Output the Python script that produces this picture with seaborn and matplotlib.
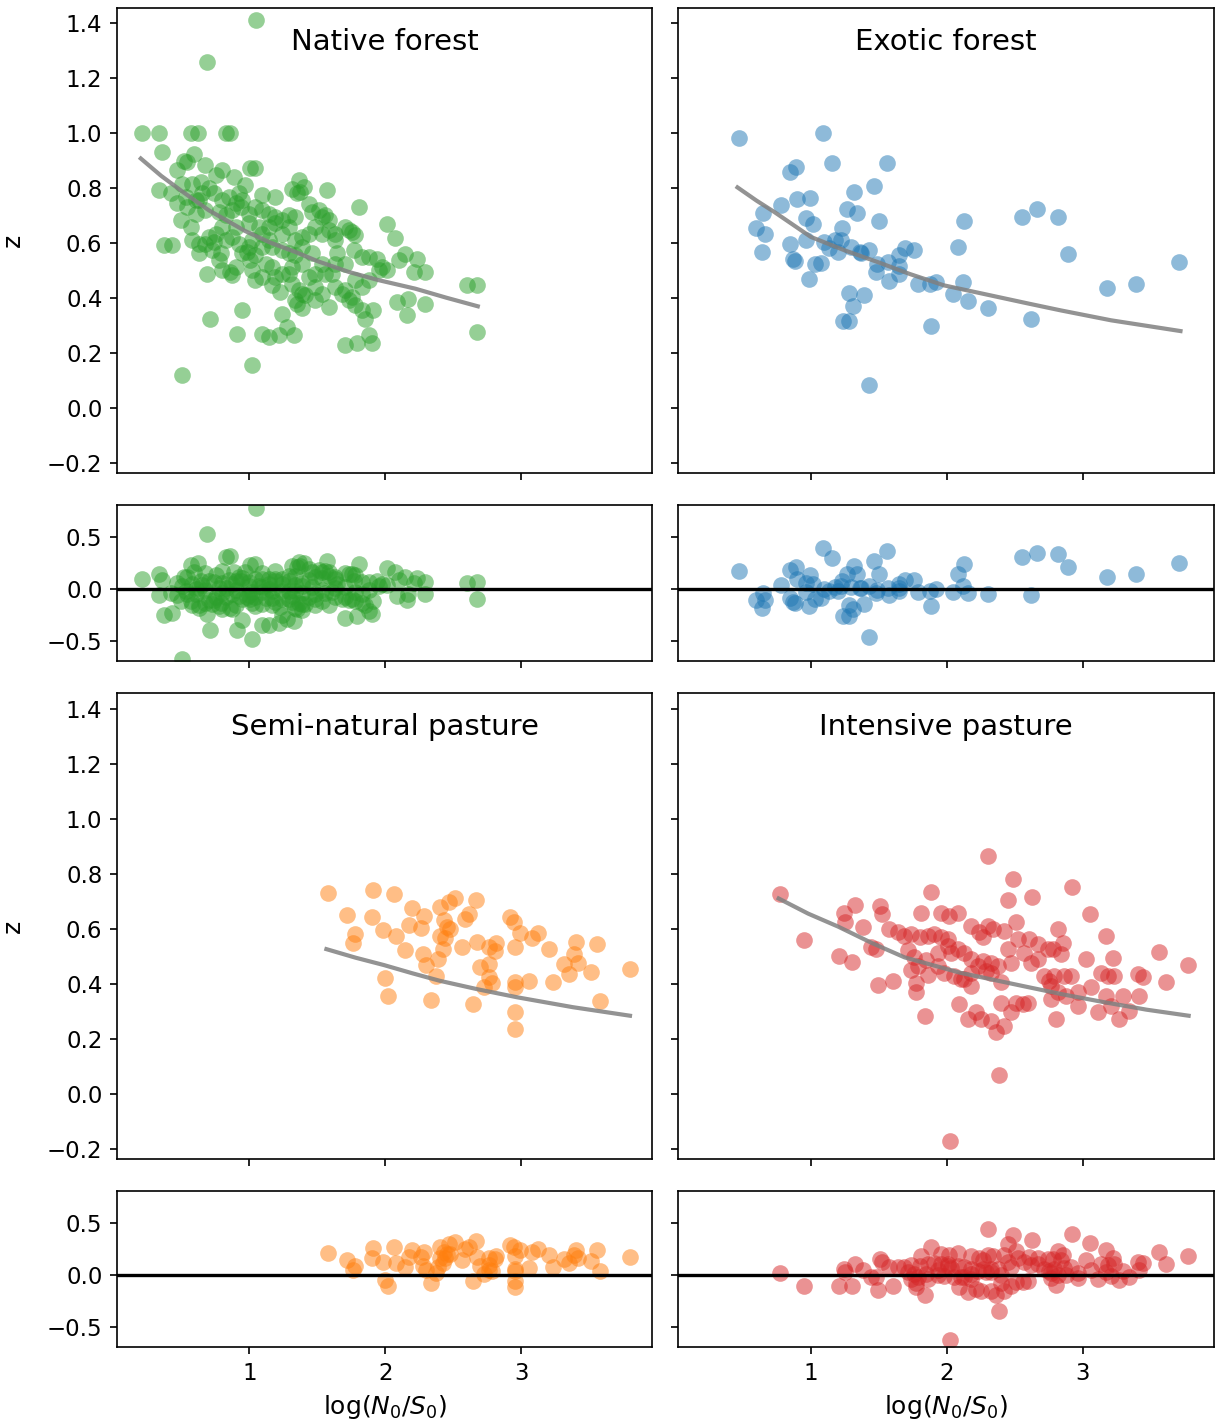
import numpy as np
import matplotlib
matplotlib.use("Agg")
import matplotlib.pyplot as plt
import seaborn as sns

# z against log(N0/S0) for each land use
native_pts = np.array([
    (1.05, 1.41), (0.69, 1.258),
    (0.21, 1.0), (0.333, 1.0), (0.566, 1.0), (0.623, 1.0), (0.824, 1.0), (0.86, 1.0),
    (0.358, 0.932), (0.52, 0.90), (0.59, 0.925), (0.54, 0.896), (0.468, 0.866), (0.676, 0.884),
    (0.80, 0.866), (0.75, 0.848), (1.007, 0.872), (1.044, 0.872), (0.885, 0.84), (0.578, 0.817),
    (0.64, 0.823), (0.70, 0.80), (0.738, 0.781), (0.97, 0.811), (0.333, 0.795), (0.419, 0.781),
    (1.363, 0.829), (1.314, 0.799), (1.40, 0.805), (1.35, 0.781), (1.375, 0.787), (1.571, 0.795),
    (1.093, 0.775), (1.19, 0.769), (0.946, 0.757), (0.897, 0.745), (0.468, 0.745), (0.54, 0.732),
    (0.63, 0.757), (0.603, 0.708), (0.676, 0.72), (0.493, 0.684), (0.566, 0.66), (0.37, 0.593),
    (0.43, 0.593), (0.775, 0.714), (0.824, 0.702), (0.873, 0.72), (0.934, 0.732), (0.995, 0.708),
    (1.044, 0.732), (1.093, 0.72), (1.142, 0.708), (1.19, 0.696), (1.24, 0.684), (1.289, 0.702),
    (1.338, 0.696), (1.461, 0.714), (1.51, 0.72), (1.559, 0.702), (1.583, 0.684), (1.706, 0.66),
    (1.755, 0.642), (1.804, 0.732), (2.01, 0.669), (2.07, 0.62), (2.147, 0.562), (2.233, 0.544),
    (2.098, 0.539), (2.208, 0.496), (2.294, 0.496), (1.877, 0.55), (1.94, 0.544), (1.95, 0.502),
    (2.01, 0.502), (1.779, 0.629), (1.767, 0.575), (1.632, 0.611), (1.645, 0.563), (1.632, 0.526),
    (2.6, 0.447), (2.674, 0.447), (2.674, 0.278), (2.083, 0.387), (2.17, 0.399), (2.16, 0.339),
    (2.294, 0.381), (1.91, 0.357), (1.853, 0.326), (1.877, 0.266), (1.90, 0.236), (1.79, 0.236),
    (1.706, 0.23), (1.583, 0.369), (1.681, 0.417), (1.73, 0.393), (1.779, 0.375), (1.828, 0.357),
    (1.363, 0.429), (1.412, 0.411), (1.387, 0.363), (1.485, 0.393), (1.35, 0.381), (1.24, 0.344),
    (1.228, 0.423), (1.093, 0.272), (1.142, 0.26), (1.216, 0.266), (1.277, 0.296), (1.326, 0.266),
    (0.91, 0.272), (1.02, 0.157), (0.713, 0.326), (0.946, 0.357), (0.50, 0.12), (0.69, 0.49),
    (0.80, 0.502), (0.86, 0.496), (0.873, 0.484), (0.676, 0.599), (0.738, 0.605), (0.787, 0.563),
    (0.824, 0.611), (0.873, 0.623), (0.922, 0.599), (0.983, 0.569), (1.007, 0.539), (1.044, 0.557),
    (1.118, 0.526), (1.167, 0.514), (1.19, 0.478), (1.24, 0.49), (1.167, 0.447), (1.314, 0.453),
    (1.314, 0.514), (1.387, 0.526), (1.338, 0.557), (1.387, 0.587), (1.461, 0.563), (1.534, 0.526),
    (1.559, 0.49), (1.485, 0.49), (1.632, 0.442), (1.706, 0.429), (1.755, 0.405), (1.608, 0.49),
    (1.706, 0.526), (1.02, 0.611), (1.093, 0.635), (1.142, 0.659), (1.19, 0.672), (1.24, 0.635),
    (1.289, 0.659), (1.338, 0.611), (1.387, 0.623), (1.436, 0.635), (1.485, 0.659), (1.534, 0.635),
    (1.583, 0.647), (1.632, 0.635), (1.167, 0.587), (1.093, 0.587), (1.24, 0.575), (1.289, 0.563),
    (0.995, 0.587), (0.946, 0.563), (0.897, 0.514), (1.02, 0.502), (1.093, 0.478), (1.069, 0.659),
    (0.995, 0.672), (1.142, 0.611), (1.044, 0.466), (0.897, 0.659), (0.75, 0.635), (0.80, 0.659),
    (0.70, 0.623), (0.627, 0.599), (0.578, 0.611), (0.725, 0.575), (0.775, 0.539), (0.627, 0.563),
    (0.603, 0.757), (0.652, 0.781), (0.53, 0.769), (0.505, 0.817), (0.80, 0.757), (0.848, 0.769),
    (0.922, 0.781), (1.436, 0.744), (1.534, 0.696), (1.73, 0.647), (1.828, 0.55), (1.975, 0.514),
    (1.779, 0.466), (1.828, 0.442), (1.877, 0.466), (1.436, 0.478), (1.485, 0.442), (1.534, 0.417),
    (1.387, 0.417), (1.338, 0.393), (1.289, 0.49),
])

exotic_pts = np.array([
    (0.47, 0.981), (1.088, 1.001), (1.154, 0.892), (1.561, 0.893), (0.848, 0.859), (0.892, 0.877),
    (1.468, 0.807), (1.321, 0.787), (0.777, 0.738), (0.897, 0.76), (0.99, 0.765), (0.647, 0.71),
    (1.267, 0.723), (1.34, 0.71), (0.966, 0.693), (1.015, 0.671), (1.50, 0.68), (2.13, 0.68),
    (0.598, 0.655), (0.659, 0.635), (1.23, 0.655), (0.642, 0.567), (0.85, 0.596), (0.961, 0.611),
    (1.10, 0.605), (1.174, 0.611), (1.223, 0.611), (1.137, 0.581), (1.198, 0.569), (1.296, 0.587),
    (1.358, 0.569), (1.43, 0.575), (1.37, 0.563), (1.696, 0.583), (1.757, 0.577), (1.652, 0.557),
    (2.08, 0.586), (2.554, 0.695), (2.662, 0.724), (2.816, 0.695), (2.894, 0.562), (3.71, 0.532),
    (3.18, 0.438), (3.39, 0.451), (0.868, 0.543), (0.88, 0.535), (0.985, 0.471), (1.027, 0.524),
    (1.076, 0.529), (1.49, 0.524), (1.566, 0.532), (1.48, 0.495), (1.652, 0.519), (1.652, 0.489),
    (1.578, 0.463), (1.79, 0.453), (1.877, 0.453), (1.922, 0.459), (2.12, 0.461), (2.044, 0.414),
    (2.159, 0.389), (2.30, 0.365), (2.62, 0.324), (1.279, 0.419), (1.394, 0.411), (1.309, 0.371),
    (1.24, 0.316), (1.284, 0.316), (1.885, 0.299), (1.431, 0.084),
])

semi_pts = np.array([
    (1.576, 0.731), (1.907, 0.74), (2.061, 0.728), (1.718, 0.649), (1.902, 0.641), (1.775, 0.58),
    (1.76, 0.55), (1.98, 0.595), (2.078, 0.572), (2.142, 0.523), (2.196, 0.677), (2.282, 0.647),
    (2.177, 0.614), (2.265, 0.602), (2.399, 0.679), (2.465, 0.697), (2.514, 0.713), (2.666, 0.705),
    (2.429, 0.631), (2.453, 0.607), (2.478, 0.599), (2.404, 0.574), (2.441, 0.568), (2.588, 0.635),
    (2.613, 0.653), (2.421, 0.526), (2.385, 0.489), (2.274, 0.51), (2.299, 0.468), (2.372, 0.429),
    (2.564, 0.532), (2.674, 0.552), (2.76, 0.535), (2.816, 0.55), (2.809, 0.52), (2.699, 0.46),
    (2.76, 0.472), (2.76, 0.424), (2.784, 0.403), (2.723, 0.387), (2.914, 0.641), (2.944, 0.623),
    (2.956, 0.532), (2.993, 0.584), (3.082, 0.565), (3.12, 0.584), (3.206, 0.526), (2.951, 0.407),
    (2.956, 0.389), (3.054, 0.411), (2.951, 0.296), (2.956, 0.235), (2.644, 0.326), (2.336, 0.341),
    (1.999, 0.42), (2.019, 0.357), (3.237, 0.407), (3.311, 0.472), (3.348, 0.436), (3.39, 0.508),
    (3.417, 0.477), (3.404, 0.552), (3.512, 0.442), (3.556, 0.545), (3.581, 0.339), (3.797, 0.453),
])

intensive_pts = np.array([
    (0.77, 0.725), (0.953, 0.559), (2.301, 0.864), (2.487, 0.782), (2.453, 0.704), (2.625, 0.717),
    (2.921, 0.75), (1.885, 0.735), (3.056, 0.653), (3.172, 0.574), (3.564, 0.516), (3.777, 0.468),
    (3.617, 0.405), (1.243, 0.659), (1.328, 0.685), (1.248, 0.623), (1.512, 0.683), (1.525, 0.653),
    (1.382, 0.607), (1.206, 0.501), (1.304, 0.48), (1.443, 0.532), (1.48, 0.526), (1.492, 0.394),
    (1.603, 0.412), (1.77, 0.37), (1.843, 0.284), (1.811, 0.659), (1.958, 0.656), (2.02, 0.646),
    (2.08, 0.656), (1.578, 0.599), (1.639, 0.587), (1.688, 0.575), (1.737, 0.581), (1.806, 0.569),
    (1.86, 0.575), (1.909, 0.581), (1.958, 0.569), (2.007, 0.562), (2.179, 0.611), (2.301, 0.611),
    (2.338, 0.599), (2.424, 0.593), (2.24, 0.587), (2.264, 0.569), (2.51, 0.623), (1.713, 0.523),
    (1.762, 0.499), (1.786, 0.463), (1.848, 0.487), (1.86, 0.433), (1.737, 0.451), (1.774, 0.403),
    (1.934, 0.513), (2.007, 0.538), (2.032, 0.513), (2.08, 0.526), (2.13, 0.513), (2.179, 0.49),
    (2.228, 0.465), (2.264, 0.483), (2.326, 0.477), (2.179, 0.441), (2.105, 0.417), (2.179, 0.393),
    (2.289, 0.447), (2.326, 0.441), (2.4, 0.405), (2.375, 0.465), (2.449, 0.526), (2.522, 0.562),
    (2.473, 0.477), (2.571, 0.513), (2.62, 0.477), (2.669, 0.49), (2.608, 0.562), (2.669, 0.544),
    (2.743, 0.526), (2.779, 0.526), (2.816, 0.599), (2.853, 0.55), (2.841, 0.508), (2.718, 0.429),
    (2.755, 0.411), (2.792, 0.429), (2.865, 0.429), (2.914, 0.429), (2.767, 0.393), (2.816, 0.369),
    (2.877, 0.357), (2.963, 0.369), (2.963, 0.32), (3.024, 0.49), (3.061, 0.387), (3.135, 0.441),
    (3.184, 0.429), (3.233, 0.429), (3.221, 0.495), (3.172, 0.357), (3.208, 0.32), (3.294, 0.357),
    (3.27, 0.272), (3.343, 0.302), (3.417, 0.357), (3.404, 0.435), (3.441, 0.423), (3.11, 0.296),
    (2.804, 0.272), (2.767, 0.345), (2.093, 0.326), (2.154, 0.272), (2.216, 0.296), (2.252, 0.272),
    (2.326, 0.266), (2.363, 0.224), (2.424, 0.248), (2.4, 0.332), (2.473, 0.296), (2.51, 0.332),
    (2.559, 0.326), (2.596, 0.332), (2.387, 0.067), (2.027, -0.173), (1.934, 0.465), (1.983, 0.441),
    (2.056, 0.429), (2.13, 0.417),
])

# fitted curves (grey lines)
native_fit_x = [0.2, 0.35, 0.5, 0.7, 0.97, 1.15, 1.34, 1.5, 1.73, 1.95, 2.22, 2.45, 2.68]
native_fit_z = [0.908, 0.845, 0.79, 0.72, 0.644, 0.603, 0.568, 0.535, 0.496, 0.466, 0.435, 0.402, 0.371]
exotic_fit_x = [0.46, 0.6, 0.73, 1.0, 1.25, 1.49, 1.73, 1.98, 2.3, 2.6, 2.84, 3.21, 3.72]
exotic_fit_z = [0.803, 0.755, 0.714, 0.623, 0.574, 0.532, 0.488, 0.447, 0.413, 0.381, 0.356, 0.32, 0.281]
semi_fit_x = [1.566, 1.78, 1.99, 2.2, 2.40, 2.68, 2.97, 3.38, 3.80]
semi_fit_z = [0.526, 0.495, 0.468, 0.438, 0.411, 0.38, 0.351, 0.315, 0.284]
intensive_fit_x = [0.763, 0.98, 1.2, 1.45, 1.69, 2.1, 2.55, 2.85, 3.16, 3.47, 3.78]
intensive_fit_z = [0.71, 0.655, 0.608, 0.548, 0.496, 0.44, 0.393, 0.362, 0.333, 0.306, 0.284]

names = ["Native forest", "Exotic forest", "Semi-natural pasture", "Intensive pasture"]
colors = ["tab:green", "tab:blue", "tab:orange", "tab:red"]
points = [native_pts, exotic_pts, semi_pts, intensive_pts]
fits = [(native_fit_x, native_fit_z), (exotic_fit_x, exotic_fit_z),
        (semi_fit_x, semi_fit_z), (intensive_fit_x, intensive_fit_z)]

plt.rcParams["xtick.labelsize"] = 11
plt.rcParams["ytick.labelsize"] = 11

fig = plt.figure(figsize=(8.1, 1424 / 150), dpi=150)
gs = fig.add_gridspec(4, 2, height_ratios=[465, 156, 465, 156],
                      left=0.0963, right=0.999, top=0.9944, bottom=0.0541,
                      hspace=0.103, wspace=0.0485)

ax0 = None
for i, name in enumerate(names):
    r, c = 2 * (i // 2), i % 2
    ax = fig.add_subplot(gs[r, c], sharex=ax0)
    if ax0 is None:
        ax0 = ax
    axr = fig.add_subplot(gs[r + 1, c], sharex=ax0)

    pts = points[i]
    fx, fz = fits[i]
    resid = pts[:, 1] - np.interp(pts[:, 0], fx, fz)

    sns.scatterplot(x=pts[:, 0], y=pts[:, 1], color=colors[i], alpha=0.5,
                    s=64, linewidth=0, ax=ax)
    sns.lineplot(x=fx, y=fz, color="grey", lw=2, alpha=0.85, ax=ax)
    ax.text(0.5, 0.927, name, transform=ax.transAxes, ha="center", va="center",
            fontsize=14)

    sns.scatterplot(x=pts[:, 0], y=resid, color=colors[i], alpha=0.5,
                    s=64, linewidth=0, ax=axr)
    axr.axhline(0, color="k", lw=1.6)

    ax.set_ylim(-0.236, 1.455)
    ax.set_yticks([-0.2, 0.0, 0.2, 0.4, 0.6, 0.8, 1.0, 1.2, 1.4])
    axr.set_ylim(-0.692, 0.808)
    axr.set_yticks([-0.5, 0.0, 0.5])
    ax.set_xlim(0.025, 3.965)
    ax.set_xticks([1, 2, 3])
    ax.tick_params(labelbottom=False)
    if i < 2:
        axr.tick_params(labelbottom=False)
    else:
        axr.set_xlabel("log($N_0$/$S_0$)", fontsize=12)
    if c == 1:
        ax.tick_params(labelleft=False)
        axr.tick_params(labelleft=False)
    else:
        ax.set_ylabel("z", fontsize=12)
        ax.yaxis.set_label_coords(-0.172, 0.5)

fig.savefig("out.png", dpi=150)
